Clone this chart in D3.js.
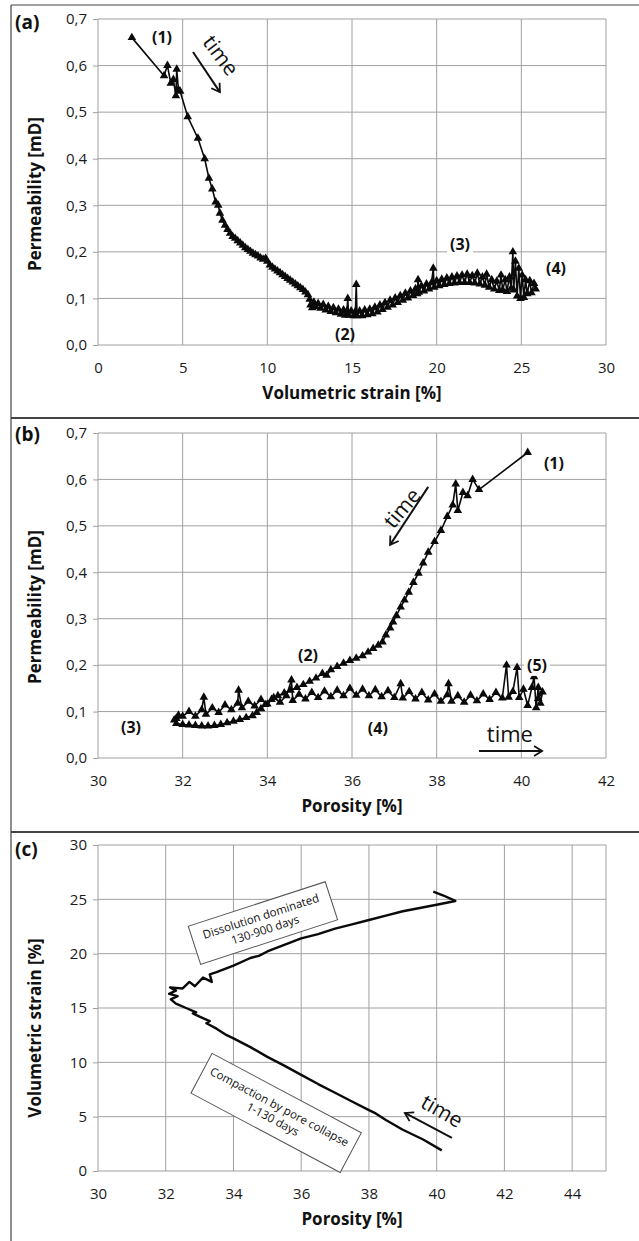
<!DOCTYPE html>
<html>
<head>
<meta charset="utf-8">
<script src="https://cdn.jsdelivr.net/npm/d3@7"></script>
<style>
  body { margin: 0; background: #fff; }
  svg { display: block; }
</style>
</head>
<body>
<div id="chart"></div>
<script>
// (a) permeability [mD] against volumetric strain [%], in time order
const permVsStrain = [
    [2.0, 0.660], [3.9, 0.578], [4.1, 0.600], [4.3, 0.562], [4.45, 0.570], [4.6, 0.535], [4.65, 0.592], [4.75, 0.548], [4.85, 0.545],
    [5.3, 0.490], [5.9, 0.444], [6.3, 0.400], [6.55, 0.358], [6.75, 0.335], [6.95, 0.307], [7.1, 0.300], [7.2, 0.283], [7.35, 0.268],
    [7.5, 0.257], [7.65, 0.248], [7.8, 0.240], [7.95, 0.233], [8.1, 0.229], [8.25, 0.224], [8.4, 0.219], [8.55, 0.214], [8.7, 0.209],
    [8.85, 0.205], [9.0, 0.201], [9.15, 0.197], [9.3, 0.194], [9.45, 0.191], [9.6, 0.187], [9.75, 0.184], [9.9, 0.186], [10.0, 0.180],
    [10.15, 0.172], [10.3, 0.167], [10.45, 0.163], [10.6, 0.159], [10.75, 0.155], [10.9, 0.151], [11.05, 0.147], [11.2, 0.143],
    [11.35, 0.139], [11.5, 0.135], [11.65, 0.131], [11.8, 0.127], [11.95, 0.123], [12.1, 0.119], [12.25, 0.114], [12.4, 0.108],
    [12.5, 0.098], [12.55, 0.086], [12.65, 0.080], [12.75, 0.092], [12.85, 0.082],
    [13.0, 0.089], [13.15, 0.079], [13.3, 0.087], [13.45, 0.075], [13.6, 0.083], [13.75, 0.072], [13.9, 0.080], [14.05, 0.069],
    [14.2, 0.077], [14.35, 0.066], [14.5, 0.075], [14.6, 0.064], [14.7, 0.073], [14.75, 0.100], [14.8, 0.064], [14.95, 0.073],
    [15.1, 0.063], [15.2, 0.072], [15.25, 0.130], [15.3, 0.063], [15.45, 0.073], [15.6, 0.063], [15.75, 0.075], [15.9, 0.065],
    [16.05, 0.077], [16.2, 0.067], [16.35, 0.081], [16.5, 0.071], [16.65, 0.086], [16.8, 0.076], [16.95, 0.091], [17.1, 0.081],
    [17.25, 0.096], [17.4, 0.086], [17.55, 0.101], [17.7, 0.091], [17.85, 0.106], [18.0, 0.096], [18.15, 0.111], [18.3, 0.101],
    [18.45, 0.116], [18.6, 0.106], [18.75, 0.121], [18.85, 0.110], [18.9, 0.140], [18.95, 0.113], [19.1, 0.127], [19.25, 0.116],
    [19.4, 0.131], [19.55, 0.120], [19.7, 0.134], [19.8, 0.165], [19.85, 0.124], [20.0, 0.138], [20.15, 0.127], [20.3, 0.141],
    [20.45, 0.130], [20.6, 0.144], [20.75, 0.132], [20.9, 0.146], [21.05, 0.133], [21.2, 0.148], [21.35, 0.134], [21.5, 0.150],
    [21.65, 0.134], [21.8, 0.152], [21.95, 0.134], [22.1, 0.149], [22.25, 0.133], [22.4, 0.154], [22.55, 0.131], [22.7, 0.146],
    [22.85, 0.128], [22.95, 0.152], [23.1, 0.124], [23.25, 0.140], [23.4, 0.120], [23.55, 0.137], [23.7, 0.117], [23.8, 0.150],
    [23.9, 0.118], [24.05, 0.140], [24.15, 0.115], [24.3, 0.146], [24.4, 0.122], [24.5, 0.200], [24.55, 0.118], [24.65, 0.180],
    [24.75, 0.105], [24.85, 0.165], [24.95, 0.100], [25.05, 0.150], [25.15, 0.102], [25.25, 0.140], [25.35, 0.110], [25.5, 0.138],
    [25.6, 0.112], [25.75, 0.132], [25.85, 0.120]
];

// (b) permeability [mD] against porosity [%], in time order
const permVsPorosity = [
    [40.15, 0.658], [39.0, 0.578], [38.85, 0.600], [38.73, 0.565], [38.62, 0.572], [38.5, 0.533], [38.45, 0.590], [38.38, 0.545],
    [38.25, 0.520], [38.1, 0.490], [37.95, 0.466], [37.8, 0.443], [37.68, 0.420], [37.57, 0.398], [37.45, 0.378], [37.34, 0.357],
    [37.24, 0.340], [37.15, 0.325], [37.05, 0.307], [36.97, 0.293], [36.9, 0.280], [36.8, 0.265], [36.72, 0.250], [36.62, 0.243],
    [36.5, 0.236], [36.38, 0.228], [36.25, 0.220], [36.1, 0.215], [35.95, 0.210], [35.8, 0.204], [35.65, 0.197], [35.5, 0.190],
    [35.4, 0.178], [35.3, 0.182], [35.15, 0.172], [35.0, 0.165], [34.85, 0.158], [34.7, 0.152], [34.55, 0.146], [34.4, 0.140],
    [34.25, 0.134], [34.1, 0.126], [33.95, 0.115], [33.85, 0.106], [33.75, 0.098], [33.65, 0.091], [33.5, 0.087], [33.35, 0.083],
    [33.2, 0.079], [33.05, 0.076], [32.9, 0.072], [32.75, 0.070], [32.6, 0.069], [32.45, 0.069], [32.3, 0.070], [32.15, 0.071],
    [32.0, 0.072], [31.85, 0.074], [31.8, 0.082], [31.9, 0.092], [31.85, 0.085], [32.0, 0.090],
    [32.15, 0.100], [32.3, 0.090], [32.45, 0.104], [32.5, 0.131], [32.55, 0.094], [32.7, 0.108], [32.85, 0.098], [33.0, 0.114],
    [33.15, 0.104], [33.3, 0.118], [33.32, 0.146], [33.4, 0.108], [33.55, 0.122], [33.7, 0.112], [33.85, 0.126], [34.0, 0.116],
    [34.15, 0.130], [34.3, 0.120], [34.45, 0.134], [34.57, 0.168], [34.6, 0.124], [34.75, 0.137], [34.9, 0.127], [35.05, 0.141],
    [35.2, 0.130], [35.35, 0.144], [35.5, 0.132], [35.65, 0.146], [35.8, 0.134], [35.95, 0.150], [36.1, 0.135], [36.25, 0.148],
    [36.4, 0.134], [36.55, 0.147], [36.7, 0.132], [36.85, 0.145], [37.0, 0.130], [37.15, 0.160], [37.2, 0.129], [37.35, 0.143],
    [37.5, 0.127], [37.65, 0.141], [37.8, 0.125], [37.95, 0.138], [38.1, 0.122], [38.25, 0.136], [38.28, 0.160], [38.35, 0.122],
    [38.5, 0.134], [38.65, 0.120], [38.8, 0.135], [38.95, 0.123], [39.1, 0.138], [39.25, 0.126], [39.4, 0.141], [39.55, 0.129],
    [39.65, 0.200], [39.7, 0.131], [39.8, 0.143], [39.9, 0.195], [39.95, 0.130], [40.05, 0.148], [40.15, 0.113], [40.25, 0.152],
    [40.3, 0.175], [40.35, 0.108], [40.4, 0.152], [40.45, 0.118], [40.5, 0.142], [40.4, 0.128]
];

// (c) volumetric strain [%] against porosity [%], in time order
const strainVsPorosity = [
    [40.15, 1.9], [39.6, 2.9], [39.0, 3.8], [38.5, 4.7], [38.2, 5.3], [38.0, 5.6], [37.5, 6.4], [37.0, 7.2], [36.5, 8.0],
    [36.0, 8.85], [35.5, 9.7], [35.0, 10.5], [34.5, 11.4], [34.0, 12.2], [33.8, 12.5], [33.5, 13.1], [33.2, 13.6], [33.3, 13.8],
    [33.0, 14.2], [32.8, 14.5], [32.9, 14.6], [32.6, 15.0], [32.3, 15.4], [32.15, 15.8], [32.35, 16.1], [32.1, 16.3], [32.3, 16.6],
    [32.13, 16.9], [32.5, 16.8], [32.7, 17.4], [32.86, 17.0], [33.1, 17.8], [33.36, 17.4], [33.3, 18.1], [33.5, 18.3], [34.0, 18.9],
    [34.5, 19.6], [34.75, 19.8], [35.0, 20.2], [35.5, 20.8], [36.0, 21.4], [36.5, 21.8], [37.0, 22.3], [37.5, 22.7], [38.0, 23.1],
    [38.5, 23.5], [39.0, 23.9], [39.5, 24.2], [40.0, 24.5], [40.55, 24.85], [40.2, 25.35], [39.9, 25.7]
];

// ticks
const strainTicksA = [0, 5, 10, 15, 20, 25, 30];
const permTicks = [0, 0.1, 0.2, 0.3, 0.4, 0.5, 0.6, 0.7];
const porosityTicksB = [30, 32, 34, 36, 38, 40, 42];
const porosityTicksC = [30, 32, 34, 36, 38, 40, 42, 44];
const strainTicksC = [0, 5, 10, 15, 20, 25, 30];

// annotations, in data units of their panel
const labelsA = [
    { text: "(1)", x: 3.78, y: 0.661 },
    { text: "(2)", x: 14.59, y: 0.024 },
    { text: "(3)", x: 21.38, y: 0.217, bg: true },
    { text: "(4)", x: 27.05, y: 0.165 }
];
const labelsB = [
    { text: "(1)", x: 40.77, y: 0.635 },
    { text: "(2)", x: 34.96, y: 0.222 },
    { text: "(3)", x: 30.78, y: 0.067 },
    { text: "(4)", x: 36.61, y: 0.065 },
    { text: "(5)", x: 40.37, y: 0.200, bg: true }
];

const width = 639, height = 1241;
const plotLeft = 98, plotRight = 606;
const gridColor = "#a0a0a0";
const frameColor = "#444";
const font = "'Open Sans', sans-serif";
const commaFormat = d => d3.format(".1f")(d).replace(".", ",");

const svg = d3.select("#chart")
    .append("svg")
    .attr("width", width)
    .attr("height", height)
    .style("font-family", font);

// arrow head for the "time" arrows
svg.append("defs").append("marker")
    .attr("id", "arrowhead")
    .attr("viewBox", "0 0 12 12")
    .attr("refX", 10)
    .attr("refY", 6)
    .attr("markerWidth", 12)
    .attr("markerHeight", 12)
    .attr("markerUnits", "userSpaceOnUse")
    .attr("orient", "auto")
    .append("path")
    .attr("d", "M2,1 L10,6 L2,11")
    .attr("fill", "none")
    .attr("stroke", "#111")
    .attr("stroke-width", 1.8);

// panel frames
const frameLines = [
    [11, 5, 639, 5], [11, 5, 11, 1241], [11, 418, 639, 418], [11, 832, 639, 832]
];
svg.append("g").selectAll("line")
    .data(frameLines)
    .enter().append("line")
    .attr("x1", d => d[0]).attr("y1", d => d[1])
    .attr("x2", d => d[2]).attr("y2", d => d[3])
    .attr("stroke", frameColor)
    .attr("stroke-width", (d, i) => i < 2 ? 1.2 : 2);

function drawPanel(opts) {
    const x = d3.scaleLinear().domain(opts.xDomain).range([plotLeft, plotRight]);
    const y = d3.scaleLinear().domain(opts.yDomain).range([opts.bottom, opts.top]);
    const g = svg.append("g");

    // grid (vertical lines also at the right edge)
    const xGrid = opts.xTicks.concat(opts.xDomain[1] != opts.xTicks[opts.xTicks.length - 1] ? [opts.xDomain[1]] : []);
    g.append("g").selectAll("line")
        .data(xGrid)
        .enter().append("line")
        .attr("x1", d => x(d)).attr("x2", d => x(d))
        .attr("y1", opts.top).attr("y2", opts.bottom)
        .attr("stroke", gridColor);
    g.append("g").selectAll("line")
        .data(opts.yTicks)
        .enter().append("line")
        .attr("x1", plotLeft).attr("x2", plotRight)
        .attr("y1", d => y(d)).attr("y2", d => y(d))
        .attr("stroke", gridColor);

    const xAxis = g.append("g")
        .attr("transform", "translate(0," + opts.bottom + ")")
        .call(d3.axisBottom(x).tickValues(opts.xTicks).tickSize(0).tickPadding(17).tickFormat(opts.xFormat || d3.format("d")));
    const yAxis = g.append("g")
        .attr("transform", "translate(" + plotLeft + ",0)")
        .call(d3.axisLeft(y).tickValues(opts.yTicks).tickSize(5).tickPadding(6).tickFormat(opts.yFormat || d3.format("d")));
    [xAxis, yAxis].forEach(a => {
        a.attr("font-family", font).attr("font-size", 15);
        a.select(".domain").remove();
        a.selectAll("line").attr("stroke", gridColor);
        a.selectAll("text").attr("fill", "#1a1a1a");
    });

    // axis titles
    g.append("text")
        .attr("x", (plotLeft + plotRight) / 2)
        .attr("y", opts.bottom + 54)
        .attr("text-anchor", "middle")
        .attr("font-size", 17)
        .attr("font-weight", "bold")
        .attr("fill", "#111")
        .text(opts.xTitle);
    g.append("text")
        .attr("transform", "translate(41," + opts.yTitleCenter + ") rotate(-90)")
        .attr("text-anchor", "middle")
        .attr("font-size", 17)
        .attr("font-weight", "bold")
        .attr("fill", "#111")
        .text(opts.yTitle);

    // panel letter
    g.append("text")
        .attr("x", 15)
        .attr("y", opts.letterY)
        .attr("font-size", 19)
        .attr("font-weight", "bold")
        .attr("fill", "#111")
        .text(opts.letter);

    return { x, y, g };
}

function drawSeries(panel, data, withMarkers) {
    const line = d3.line()
        .x(d => panel.x(d[0]))
        .y(d => panel.y(d[1]));

    panel.g.append("path")
        .datum(data)
        .attr("d", line)
        .attr("fill", "none")
        .attr("stroke", "#0a0a0a")
        .attr("stroke-width", withMarkers ? 1.6 : 2.4)
        .attr("stroke-linejoin", "round");

    if (withMarkers) {
        panel.g.append("g").selectAll("path")
            .data(data)
            .enter().append("path")
            .attr("d", d3.symbol().type(d3.symbolTriangle).size(32))
            .attr("transform", d => "translate(" + panel.x(d[0]) + "," + panel.y(d[1]) + ")")
            .attr("fill", "#0a0a0a");
    }
}

function drawLabels(panel, labels) {
    labels.forEach(l => {
        const t = panel.g.append("text")
            .attr("x", panel.x(l.x))
            .attr("y", panel.y(l.y))
            .attr("dy", "0.36em")
            .attr("text-anchor", "middle")
            .attr("font-size", 16)
            .attr("font-weight", "bold")
            .attr("fill", "#111")
            .text(l.text);
        if (l.bg) {
            const b = t.node().getBBox();
            panel.g.insert("rect", () => t.node())
                .attr("x", b.x - 3).attr("y", b.y)
                .attr("width", b.width + 6).attr("height", b.height)
                .attr("fill", "#fff");
        }
    });
}

function drawTime(panel, t) {
    panel.g.append("line")
        .attr("x1", panel.x(t.from[0])).attr("y1", panel.y(t.from[1]))
        .attr("x2", panel.x(t.to[0])).attr("y2", panel.y(t.to[1]))
        .attr("stroke", "#111")
        .attr("stroke-width", 2)
        .attr("marker-end", "url(#arrowhead)");
    panel.g.append("text")
        .attr("transform", "translate(" + panel.x(t.text[0]) + "," + panel.y(t.text[1]) + ") rotate(" + t.angle + ")")
        .attr("dy", "0.35em")
        .attr("text-anchor", "middle")
        .attr("font-size", t.size)
        .attr("fill", "#111")
        .text("time");
}

function drawBox(panel, b) {
    const box = panel.g.append("g")
        .attr("transform", "translate(" + panel.x(b.at[0]) + "," + panel.y(b.at[1]) + ") rotate(" + b.angle + ")");
    box.append("rect")
        .attr("x", -b.w / 2).attr("y", -b.h / 2)
        .attr("width", b.w).attr("height", b.h)
        .attr("fill", "#fff")
        .attr("stroke", "#555")
        .attr("stroke-width", 1);
    box.selectAll("text")
        .data(b.lines)
        .enter().append("text")
        .attr("y", (d, i) => (i - (b.lines.length - 1) / 2) * 14)
        .attr("dy", "0.35em")
        .attr("text-anchor", "middle")
        .attr("font-size", 11.5)
        .attr("fill", "#111")
        .text(d => d);
}

// (a)
const panelA = drawPanel({
    xDomain: [0, 30], yDomain: [0, 0.7], top: 19, bottom: 345,
    xTicks: strainTicksA, yTicks: permTicks, yFormat: commaFormat,
    xTitle: "Volumetric strain [%]", yTitle: "Permeability [mD]", yTitleCenter: 194,
    letter: "(a)", letterY: 29
});
drawSeries(panelA, permVsStrain, true);
drawLabels(panelA, labelsA);
drawTime(panelA, { from: [5.61, 0.629], to: [7.2, 0.543], text: [7.25, 0.622], angle: 53, size: 21 });

// (b)
const panelB = drawPanel({
    xDomain: [30, 42], yDomain: [0, 0.7], top: 433, bottom: 758,
    xTicks: porosityTicksB, yTicks: permTicks, yFormat: commaFormat,
    xTitle: "Porosity [%]", yTitle: "Permeability [mD]", yTitleCenter: 607,
    letter: "(b)", letterY: 441
});
drawSeries(panelB, permVsPorosity, true);
drawLabels(panelB, labelsB);
drawTime(panelB, { from: [37.8, 0.584], to: [36.9, 0.459], text: [37.18, 0.538], angle: -50, size: 21 });
drawTime(panelB, { from: [39.0, 0.015], to: [40.49, 0.015], text: [39.73, 0.05], angle: 0, size: 22 });

// (c)
const panelC = drawPanel({
    xDomain: [30, 45], yDomain: [0, 30], top: 845, bottom: 1171,
    xTicks: porosityTicksC, yTicks: strainTicksC,
    xTitle: "Porosity [%]", yTitle: "Volumetric strain [%]", yTitleCenter: 1028,
    letter: "(c)", letterY: 856
});
drawSeries(panelC, strainVsPorosity, false);
drawBox(panelC, { at: [34.87, 22.82], angle: -18, w: 144, h: 40, lines: ["Dissolution dominated", "130-900 days"] });
drawBox(panelC, { at: [35.26, 5.34], angle: 28, w: 169, h: 45, lines: ["Compaction by pore collapse", "1-130 days"] });
drawTime(panelC, { from: [40.45, 3.04], to: [39.06, 5.34], text: [40.16, 5.52], angle: 30, size: 21 });
</script>
</body>
</html>
